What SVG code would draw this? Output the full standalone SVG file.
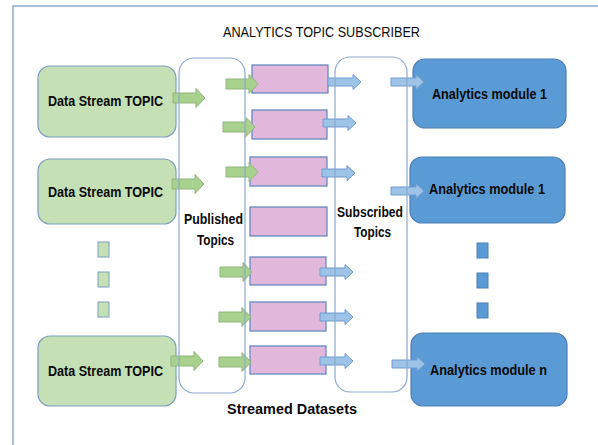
<svg xmlns="http://www.w3.org/2000/svg" width="598" height="445" viewBox="0 0 598 445">
  <style>
    .frame { fill: none; stroke: #8EA9C8; stroke-width: 1.5; }
    .src { fill: #C5E0B4; stroke: #7C9DBF; stroke-width: 1.2; }
    .dot-g { fill: #C5E0B4; stroke: #7C9DBF; stroke-width: 1; }
    .dot-b { fill: #5B9BD5; stroke: #4C7FB5; stroke-width: 1; }
    .set { fill: #E1B8DB; stroke: #5A84BA; stroke-width: 1.2; }
    .mod { fill: #5B9BD5; stroke: #4F7FB4; stroke-width: 1.2; }
    .box { fill: none; stroke: #8DA9CB; stroke-width: 1.2; }
    .ga { fill: #A9D18E; stroke: #8FB57A; stroke-width: 1; }
    .ba { fill: #9DC3E6; stroke: #6E9DD0; stroke-width: 1; }
    .lbl { font-family: "Liberation Sans", Arial, sans-serif; font-weight: bold; font-size: 14.5px; fill: #0A0A0A; }
    .ttl { font-family: "Liberation Sans", Arial, sans-serif; font-size: 15px; fill: #0A0A0A; }
  </style>
  <defs>
    <path id="garrow" class="ga" d="M0,-5 H23 V-9.5 L32,0 L23,9.5 V5 H0 Z"/>
    <path id="barrow" class="ba" d="M0,-4 H25 V-7.5 L33,0 L25,7.5 V4 H0 Z"/>
  </defs>

  <rect width="598" height="445" fill="#FFFFFF"/>
  <path class="frame" d="M13,445 V6 H598"/>

  <text class="ttl" x="223" y="37" textLength="197" lengthAdjust="spacingAndGlyphs">ANALYTICS TOPIC SUBSCRIBER</text>

  <!-- data stream sources -->
  <g id="source-1">
    <rect class="src" x="38" y="66" width="138" height="71" rx="12"/>
    <text class="lbl" x="48" y="106" textLength="115" lengthAdjust="spacingAndGlyphs">Data Stream TOPIC</text>
  </g>
  <g id="source-2">
    <rect class="src" x="38" y="159" width="138" height="65" rx="12"/>
    <text class="lbl" x="48" y="197" textLength="115" lengthAdjust="spacingAndGlyphs">Data Stream TOPIC</text>
  </g>
  <g id="source-ellipsis">
    <rect class="dot-g" x="98" y="242" width="11" height="15"/>
    <rect class="dot-g" x="98" y="272" width="11" height="15"/>
    <rect class="dot-g" x="98" y="302" width="11" height="15"/>
  </g>
  <g id="source-n">
    <rect class="src" x="38" y="336" width="138" height="70" rx="12"/>
    <text class="lbl" x="48" y="376" textLength="115" lengthAdjust="spacingAndGlyphs">Data Stream TOPIC</text>
  </g>

  <!-- streamed datasets -->
  <g id="datasets">
    <rect class="set" x="252" y="65" width="76" height="28"/>
    <rect class="set" x="252" y="110" width="75" height="29"/>
    <rect class="set" x="250" y="157" width="77" height="29"/>
    <rect class="set" x="250" y="207" width="77" height="29"/>
    <rect class="set" x="250" y="257" width="76" height="28"/>
    <rect class="set" x="250" y="302" width="76" height="29"/>
    <rect class="set" x="250" y="346" width="76" height="28"/>
    <text class="lbl" x="227" y="414" textLength="130" lengthAdjust="spacingAndGlyphs">Streamed Datasets</text>
  </g>

  <!-- analytics modules -->
  <g id="module-1">
    <rect class="mod" x="413" y="59" width="153" height="69" rx="12"/>
    <text class="lbl" x="432" y="99" textLength="115" lengthAdjust="spacingAndGlyphs">Analytics module 1</text>
  </g>
  <g id="module-2">
    <rect class="mod" x="410" y="157" width="155" height="66" rx="12"/>
    <text class="lbl" x="429" y="194" textLength="116" lengthAdjust="spacingAndGlyphs">Analytics module 1</text>
  </g>
  <g id="module-ellipsis">
    <rect class="dot-b" x="477" y="243" width="11" height="15"/>
    <rect class="dot-b" x="477" y="273" width="11" height="15"/>
    <rect class="dot-b" x="477" y="303" width="11" height="15"/>
  </g>
  <g id="module-n">
    <rect class="mod" x="411" y="333" width="156" height="73" rx="12"/>
    <text class="lbl" x="430" y="375" textLength="117" lengthAdjust="spacingAndGlyphs">Analytics module n</text>
  </g>

  <!-- block arrows -->
  <g id="connectors">
    <use href="#garrow" x="173" y="98"/>
    <use href="#garrow" x="172" y="184"/>
    <use href="#garrow" x="171" y="361"/>
    <use href="#garrow" x="226" y="84"/>
    <use href="#garrow" x="223" y="127"/>
    <use href="#garrow" x="226" y="172"/>
    <use href="#garrow" x="220" y="272"/>
    <use href="#garrow" x="219" y="317"/>
    <use href="#garrow" x="219" y="362"/>

    <use href="#barrow" x="328" y="82"/>
    <use href="#barrow" x="323" y="123"/>
    <use href="#barrow" x="322" y="173"/>
    <use href="#barrow" x="320" y="272"/>
    <use href="#barrow" x="320" y="317"/>
    <use href="#barrow" x="320" y="361"/>
    <use href="#barrow" x="391" y="82"/>
    <use href="#barrow" x="391" y="191"/>
    <use href="#barrow" x="392" y="364"/>
  </g>

  <!-- topic containers, outlined over the arrows -->
  <g id="published-topics">
    <rect class="box" x="179" y="58" width="66" height="335" rx="15"/>
    <text class="lbl" x="184" y="224" textLength="59" lengthAdjust="spacingAndGlyphs">Published</text>
    <text class="lbl" x="197" y="245" textLength="37" lengthAdjust="spacingAndGlyphs">Topics</text>
  </g>
  <g id="subscribed-topics">
    <rect class="box" x="335" y="57" width="72" height="335" rx="15"/>
    <text class="lbl" x="337" y="217" textLength="66" lengthAdjust="spacingAndGlyphs">Subscribed</text>
    <text class="lbl" x="354" y="237" textLength="37" lengthAdjust="spacingAndGlyphs">Topics</text>
  </g>
</svg>
